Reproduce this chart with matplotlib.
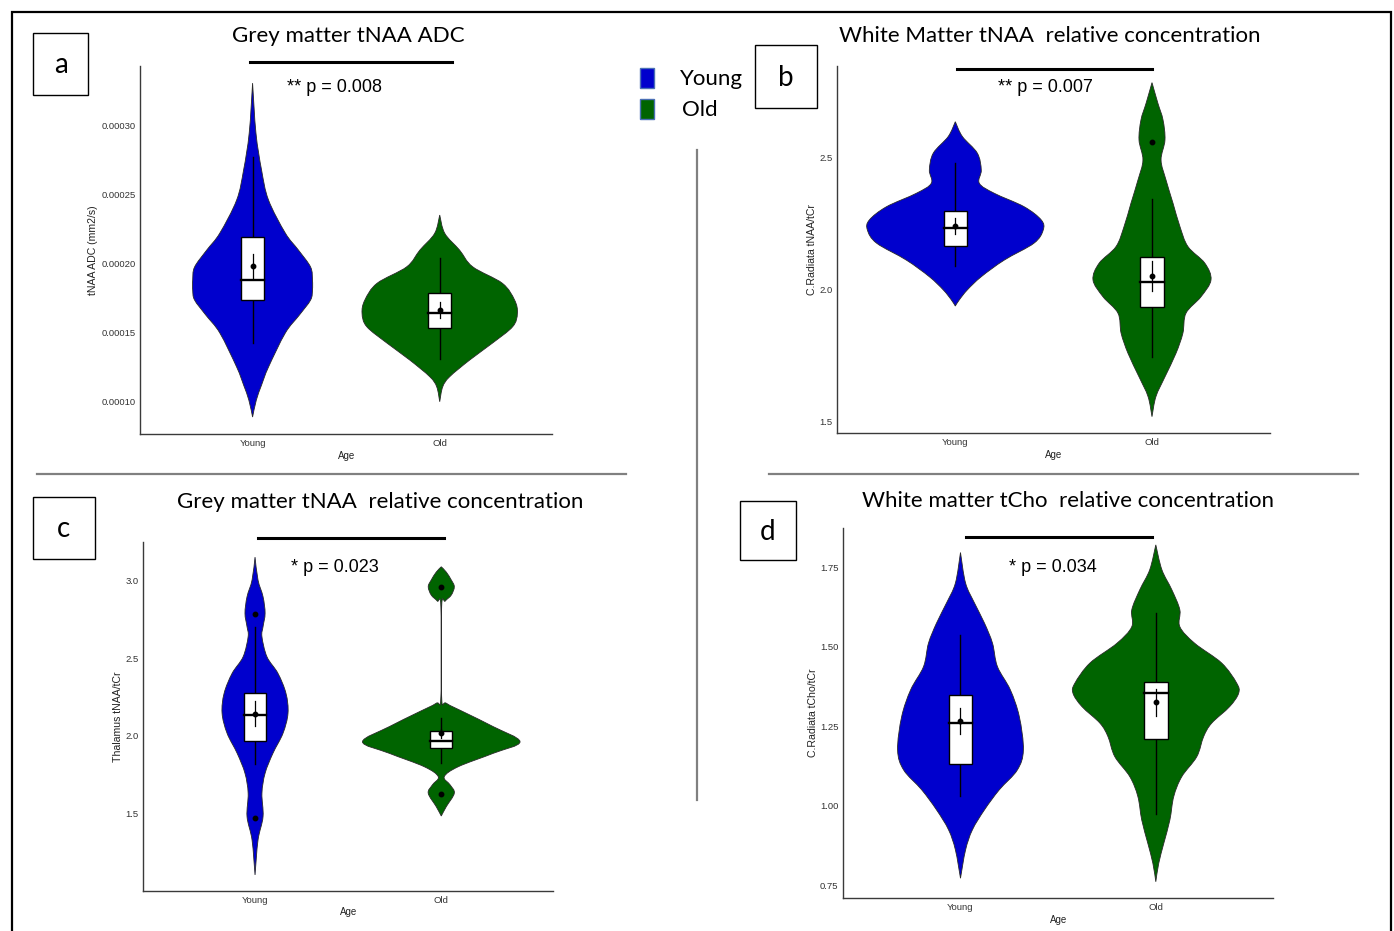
import matplotlib
matplotlib.use("Agg")
import matplotlib.pyplot as plt
from matplotlib.patches import Rectangle, PathPatch
from matplotlib.path import Path
from matplotlib.lines import Line2D

W, H = 1394, 931

groups = ["Young", "Old"]
fill_colors = ["#0000CD", "#006400"]

# ---- a: Grey matter tNAA ADC (violin outline: value, half width) ----
a_young_vals = [0.0003304, 0.0002942, 0.0002674, 0.0002457, 0.0002217, 0.0002094, 0.0001971,
                0.0001877, 0.0001804, 0.0001732, 0.0001623, 0.0001493, 0.0001246, 0.0001116,
                0.0001007, 0.0000884]
a_young_half = [0, 0.018, 0.048, 0.085, 0.175, 0.245, 0.31, 0.32, 0.32, 0.31, 0.25, 0.175,
                0.085, 0.048, 0.02, 0]
a_old_vals = [0.0002348, 0.0002215, 0.0002094, 0.0001973, 0.0001853, 0.0001732, 0.0001636,
              0.0001539, 0.0001418, 0.0001297, 0.0001176, 0.0001103, 0.0000995]
a_old_half = [0, 0.027, 0.106, 0.176, 0.335, 0.40, 0.415, 0.39, 0.28, 0.16, 0.053, 0.016, 0]
# box: whisker low, q1, median, q3, whisker high
a_young_box = [0.0001418, 0.0001732, 0.0001877, 0.0002191, 0.0002766]
a_old_box = [0.0001302, 0.0001527, 0.000164, 0.0001785, 0.0002034]
a_means = [0.0001978, 0.0001659]
a_se = [0.0000087, 0.000006]
a_outliers = [[], []]

# ---- b: White Matter tNAA relative concentration ----
b_young_vals = [2.636, 2.580, 2.517, 2.453, 2.403, 2.365, 2.314, 2.264, 2.226, 2.176, 2.112,
                2.049, 1.999, 1.961, 1.938]
b_young_half = [0, 0.036, 0.112, 0.132, 0.122, 0.198, 0.35, 0.437, 0.447, 0.40, 0.249, 0.132,
                0.061, 0.02, 0]
b_old_vals = [2.784, 2.706, 2.643, 2.567, 2.491, 2.416, 2.327, 2.239, 2.163, 2.100, 2.037, 1.973,
              1.911, 1.835, 1.759, 1.670, 1.595, 1.519]
b_old_half = [0, 0.030, 0.056, 0.066, 0.046, 0.071, 0.107, 0.142, 0.183, 0.269, 0.30, 0.249,
              0.173, 0.157, 0.122, 0.066, 0.02, 0]
b_young_box = [2.091, 2.167, 2.233, 2.298, 2.481]
b_old_box = [1.746, 1.936, 2.029, 2.125, 2.342]
b_means = [2.241, 2.053]
b_se = [0.029, 0.057]
b_outliers = [[], [2.561]]

# ---- c: Grey matter tNAA relative concentration ----
c_young_vals = [3.147, 3.000, 2.893, 2.787, 2.701, 2.637, 2.508, 2.402, 2.274, 2.146, 2.017,
                1.889, 1.761, 1.633, 1.483, 1.333, 1.109]
c_young_half = [0, 0.016, 0.043, 0.054, 0.043, 0.037, 0.064, 0.123, 0.166, 0.177, 0.15, 0.096,
                0.054, 0.037, 0.043, 0.016, 0]
c_old_vals = [3.085, 3.051, 3.000, 2.957, 2.904, 2.865, 2.827, 2.252, 2.210, 2.146, 2.060, 1.963,
              1.889, 1.803, 1.739, 1.686, 1.633, 1.547, 1.487]
c_old_half = [0, 0.027, 0.054, 0.07, 0.054, 0.021, 0.002, 0.002, 0.027, 0.134, 0.279, 0.423,
              0.279, 0.091, 0.016, 0.048, 0.07, 0.027, 0]
c_young_box = [1.821, 1.970, 2.135, 2.274, 2.701]
c_old_box = [1.829, 1.921, 1.968, 2.034, 2.117]
c_means = [2.143, 2.017]
c_se = [0.08, 0.03]
c_outliers = [[2.780, 1.472], [2.953, 1.626]]

# ---- d: White matter tCho relative concentration ----
d_young_vals = [1.796, 1.700, 1.637, 1.574, 1.511, 1.438, 1.365, 1.281, 1.176, 1.113, 1.051,
                0.988, 0.925, 0.862, 0.773]
d_young_half = [0, 0.026, 0.072, 0.123, 0.164, 0.189, 0.255, 0.301, 0.322, 0.291, 0.199, 0.123,
                0.061, 0.026, 0]
d_old_vals = [1.820, 1.742, 1.679, 1.616, 1.563, 1.511, 1.449, 1.386, 1.354, 1.312, 1.260, 1.218,
              1.155, 1.092, 1.030, 0.956, 0.883, 0.820, 0.762]
d_old_half = [0, 0.031, 0.082, 0.123, 0.123, 0.199, 0.337, 0.414, 0.424, 0.378, 0.286, 0.245,
              0.21, 0.133, 0.092, 0.072, 0.041, 0.015, 0]
d_young_box = [1.030, 1.132, 1.261, 1.350, 1.537]
d_old_box = [0.975, 1.210, 1.354, 1.388, 1.607]
d_means = [1.267, 1.325]
d_se = [0.04, 0.043]
d_outliers = [[], []]

titles = ["Grey matter tNAA ADC", "White Matter tNAA  relative concentration",
          "Grey matter tNAA  relative concentration", "White matter tCho  relative concentration"]
ylabels = ["tNAA ADC (mm2/s)", "C.Radiata tNAA/tCr", "Thalamus tNAA/tCr", "C.Radiata tCho/tCr"]
pvalues = ["** p = 0.008", "** p = 0.007", "* p = 0.023", "* p = 0.034"]
panel_letters = ["a", "b", "c", "d"]


def fx(px):
    return px / W


def fy(py):
    return 1 - py / H


def smooth_side(pts):
    # cubic bezier pieces through the outline points (catmull-rom style)
    verts, codes = [], []
    n = len(pts)
    for i in range(n - 1):
        p0 = pts[max(i - 1, 0)]
        p1 = pts[i]
        p2 = pts[i + 1]
        p3 = pts[min(i + 2, n - 1)]
        c1 = (p1[0] + (p2[0] - p0[0]) / 6, p1[1] + (p2[1] - p0[1]) / 6)
        c2 = (p2[0] - (p3[0] - p1[0]) / 6, p2[1] - (p3[1] - p1[1]) / 6)
        verts += [c1, c2, p2]
        codes += [Path.CURVE4] * 3
    return verts, codes


def violin_patch(x, vals, half, color):
    right = [(x + h, v) for h, v in zip(half, vals)]
    left = [(x - h, v) for h, v in zip(half, vals)][::-1]
    rv, rc = smooth_side(right)
    lv, lc = smooth_side(left)
    verts = [right[0]] + rv + [left[0]] + lv + [right[0]]
    codes = [Path.MOVETO] + rc + [Path.LINETO] + lc + [Path.CLOSEPOLY]
    return PathPatch(Path(verts, codes), facecolor=color, edgecolor="#2a2a2a", lw=0.6, zorder=1)


def draw_panel(ax, violins, boxes, means, se, outliers):
    for i, ((vals, half), box) in enumerate(zip(violins, boxes)):
        x = i + 1
        ax.add_patch(violin_patch(x, vals, half, fill_colors[i]))
        ax.plot([x, x], [box[0], box[4]], color="black", lw=1.0, zorder=2)
        ax.add_patch(Rectangle((x - 0.06, box[1]), 0.12, box[3] - box[1],
                               facecolor="white", edgecolor="black", lw=1.0, zorder=3))
        ax.plot([x - 0.06, x + 0.06], [box[2], box[2]], color="black", lw=1.7, zorder=4)
        ax.plot([x, x], [means[i] - se[i], means[i] + se[i]], color="black", lw=0.9, zorder=5)
        ax.plot([x], [means[i]], "o", color="black", ms=3.2, zorder=6)
        if outliers[i]:
            ax.plot([x] * len(outliers[i]), outliers[i], "o", color="black", ms=3.2, zorder=6)


def style_axes(ax, ylim, yticks, ytick_fmt, ylabel, ylabelpad):
    ax.set_xlim(0.4, 2.6)
    ax.set_ylim(*ylim)
    ax.set_xticks([1, 2])
    ax.set_xticklabels(groups)
    ax.set_yticks(yticks)
    ax.set_yticklabels([ytick_fmt.format(t) for t in yticks])
    for s in ["top", "right"]:
        ax.spines[s].set_visible(False)
    for s in ["left", "bottom"]:
        ax.spines[s].set_color("#3a3a3a")
        ax.spines[s].set_linewidth(1.0)
    ax.tick_params(length=0, labelsize=6.8, labelcolor="#333333", pad=3.5)
    ax.set_xlabel("Age", fontsize=7, labelpad=2, color="#222222")
    ax.set_ylabel(ylabel, fontsize=7.6, labelpad=ylabelpad, color="#222222")
    ax.patch.set_alpha(0)


plt.rcParams["font.family"] = ["Liberation Sans", "DejaVu Sans"]

fig = plt.figure(figsize=(W / 100, H / 100), dpi=100)

# axes rectangles in pixels: left, right, top, bottom
axes_px = [(140.3, 552, 66, 434), (837.3, 1270, 66, 433.3),
           (143.3, 553, 542, 890.7), (843.3, 1273, 528, 898.3)]
axs = []
for l, r, t, b in axes_px:
    axs.append(fig.add_axes([fx(l), fy(b), (r - l) / W, (b - t) / H]))

draw_panel(axs[0], [(a_young_vals, a_young_half), (a_old_vals, a_old_half)],
           [a_young_box, a_old_box], a_means, a_se, a_outliers)
style_axes(axs[0], (0.0000761, 0.0003428), [0.0001, 0.00015, 0.0002, 0.00025, 0.0003],
           "{:.5f}", ylabels[0], 2.5)

draw_panel(axs[1], [(b_young_vals, b_young_half), (b_old_vals, b_old_half)],
           [b_young_box, b_old_box], b_means, b_se, b_outliers)
style_axes(axs[1], (1.456, 2.847), [1.5, 2.0, 2.5], "{:.1f}", ylabels[1], 1.5)

draw_panel(axs[2], [(c_young_vals, c_young_half), (c_old_vals, c_old_half)],
           [c_young_box, c_old_box], c_means, c_se, c_outliers)
style_axes(axs[2], (1.008, 3.244), [1.5, 2.0, 2.5, 3.0], "{:.1f}", ylabels[2], 1.5)

draw_panel(axs[3], [(d_young_vals, d_young_half), (d_old_vals, d_old_half)],
           [d_young_box, d_old_box], d_means, d_se, d_outliers)
style_axes(axs[3], (0.710, 1.873), [0.75, 1.0, 1.25, 1.5, 1.75], "{:.2f}", ylabels[3], 1.5)

# ---- figure decorations (pixel positions) ----
title_font = ["Lato", "DejaVu Sans"]
title_pos = [(348, 36), (1050, 36), (380, 502), (1068, 501)]
for (x, y), t in zip(title_pos, titles):
    fig.text(fx(x), fy(y), t, ha="center", va="center", fontsize=16, family=title_font)

pval_pos = [(287, 87), (998, 87), (291, 567), (1009, 567)]
for (x, y), t in zip(pval_pos, pvalues):
    fig.text(fx(x), fy(y), t, ha="left", va="center", fontsize=13)

sig_bars = [(250, 452, 62), (957, 1152, 69), (258, 444, 538), (966, 1152, 537)]
for x0, x1, y in sig_bars:
    fig.add_artist(Line2D([fx(x0), fx(x1)], [fy(y), fy(y)], color="black", lw=2.2))

letter_boxes = [(33, 33, 88, 95), (755, 45, 817, 108), (33, 497, 95, 559), (740, 501, 796, 560)]
for (x0, y0, x1, y1), letter in zip(letter_boxes, panel_letters):
    fig.add_artist(Rectangle((fx(x0), fy(y1)), (x1 - x0) / W, (y1 - y0) / H,
                             facecolor="white", edgecolor="black", lw=1.0))
    fig.text(fx((x0 + x1) / 2), fy((y0 + y1) / 2 + 1), letter, ha="center", va="center",
             fontsize=20, family=title_font)

# legend
legend_items = [(68, "Young"), (99, "Old")]
for (y, label), col in zip(legend_items, fill_colors):
    fig.add_artist(Rectangle((fx(640), fy(y + 20)), 14 / W, 20 / H,
                             facecolor=col, edgecolor="#4a6fb5", lw=1.0))
    fig.text(fx(680 if label == "Young" else 682), fy(y + 11), label, ha="left", va="center",
             fontsize=16, family=title_font)

# separators
grey = "#808080"
fig.add_artist(Line2D([fx(37), fx(626)], [fy(474), fy(474)], color=grey, lw=1.6))
fig.add_artist(Line2D([fx(769), fx(1358)], [fy(474), fy(474)], color=grey, lw=1.6))
fig.add_artist(Line2D([fx(697), fx(697)], [fy(150), fy(800)], color=grey, lw=1.6))

# outer frame
fig.add_artist(Rectangle((fx(12), fy(940)), (1391 - 12) / W, (940 - 12) / H,
                         facecolor="none", edgecolor="black", lw=1.6))

fig.savefig("out.png", dpi=100)
